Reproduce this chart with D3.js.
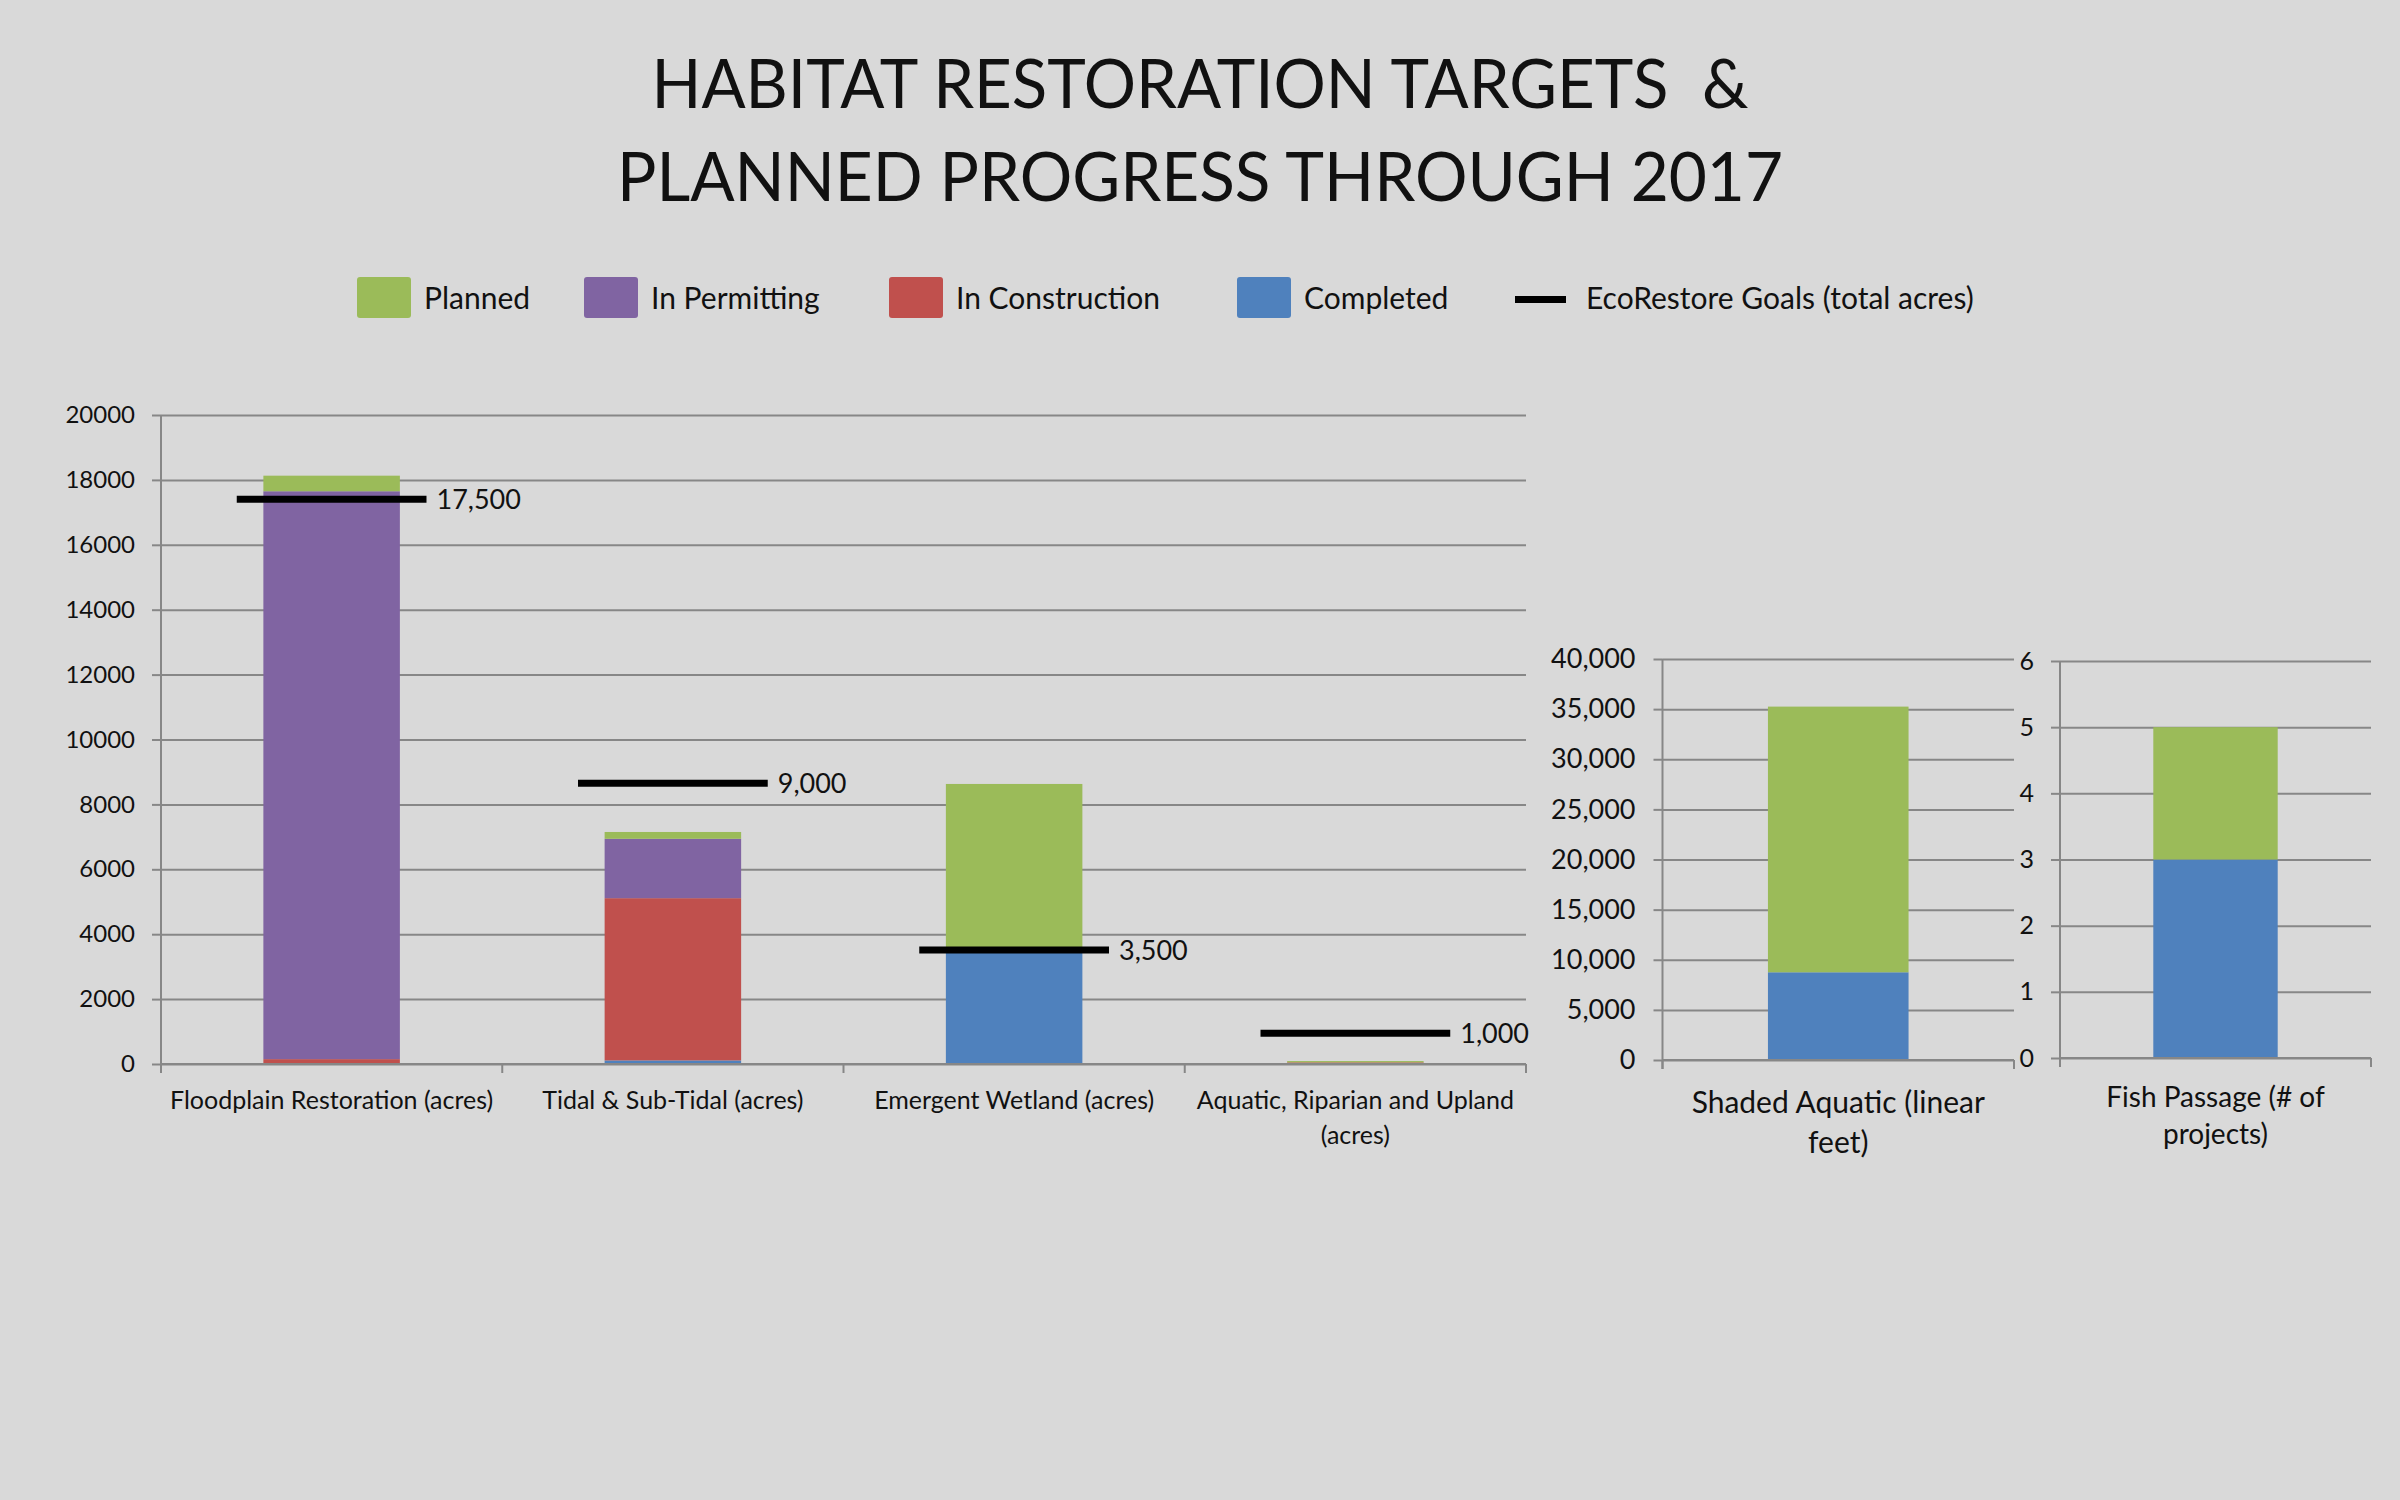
<!DOCTYPE html>
<html>
<head>
<meta charset="utf-8">
<script src="https://cdn.jsdelivr.net/npm/d3@7"></script>
<style>
  html, body { margin: 0; padding: 0; background: #d9d9d9; }
  svg { display: block; font-family: Lato, 'Open Sans', sans-serif; }
</style>
</head>
<body>
<div id="chart"></div>
<script>
// main panel (acres)
const categories = ['Floodplain Restoration (acres)', 'Tidal & Sub-Tidal (acres)', 'Emergent Wetland (acres)', 'Aquatic, Riparian and Upland (acres)'];
const completed = [0, 110, 3520, 0];
const inConstruction = [150, 5000, 0, 50];
const inPermitting = [17500, 1830, 0, 0];
const planned = [480, 210, 5110, 40];
const goalValues = [17400, 8650, 3510, 950];
const goalLabels = ['17,500', '9,000', '3,500', '1,000'];
const mainTicks = [0, 2000, 4000, 6000, 8000, 10000, 12000, 14000, 16000, 18000, 20000];

// shaded aquatic (linear feet)
const shadedCategories = ['Shaded Aquatic (linear feet)'];
const shadedCompleted = [8750];
const shadedPlanned = [26500];
const shadedTicks = [0, 5000, 10000, 15000, 20000, 25000, 30000, 35000, 40000];

// fish passage (# of projects)
const fishCategories = ['Fish Passage (# of projects)'];
const fishCompleted = [3];
const fishPlanned = [2];
const fishTicks = [0, 1, 2, 3, 4, 5, 6];

const titleLines = ['HABITAT RESTORATION TARGETS  &', 'PLANNED PROGRESS THROUGH 2017'];

const seriesConfig = {
  planned: { label: 'Planned', color: '#9bbb59' },
  inPermitting: { label: 'In Permitting', color: '#8064a2' },
  inConstruction: { label: 'In Construction', color: '#c0504d' },
  completed: { label: 'Completed', color: '#4f81bd' }
};
const stackKeys = ['completed', 'inConstruction', 'inPermitting', 'planned'];
const gridColor = '#878787';
const textColor = '#111';

const W = 2400, H = 1500;
const svg = d3.select('#chart').append('svg')
  .attr('width', W)
  .attr('height', H);

svg.append('rect').attr('width', W).attr('height', H).attr('fill', '#d9d9d9');

// Title
svg.append('g').selectAll('text')
  .data(titleLines)
  .join('text')
  .attr('x', 1200)
  .attr('y', (d, i) => 108 + i * 93)
  .attr('text-anchor', 'middle')
  .attr('font-size', 68)
  .attr('fill', textColor)
  .attr('textLength', (d, i) => i === 0 ? 1097 : 1166)
  .attr('lengthAdjust', 'spacingAndGlyphs')
  .style('white-space', 'pre')
  .text(d => d);

// Legend
const legendX = [357, 584, 889, 1237, 1515];
const legendItems = ['planned', 'inPermitting', 'inConstruction', 'completed', 'goal'];
const legend = svg.append('g');
legendItems.forEach((key, i) => {
  const gx = legendX[i];
  if (key === 'goal') {
    legend.append('line')
      .attr('x1', gx).attr('x2', gx + 51)
      .attr('y1', 299.5).attr('y2', 299.5)
      .attr('stroke', '#000').attr('stroke-width', 7);
    legend.append('text')
      .attr('x', gx + 71).attr('y', 309)
      .attr('font-size', 30).attr('fill', textColor)
      .text('EcoRestore Goals (total acres)');
  } else {
    legend.append('rect')
      .attr('x', gx).attr('y', 277)
      .attr('width', 54).attr('height', 41)
      .attr('rx', 3)
      .attr('fill', seriesConfig[key].color);
    legend.append('text')
      .attr('x', gx + 67).attr('y', 309)
      .attr('font-size', 30).attr('fill', textColor)
      .text(seriesConfig[key].label);
  }
});

function wrap(textSel, width, lineHeight) {
  textSel.each(function () {
    const t = d3.select(this);
    const words = t.text().split(/\s+/);
    const x = t.attr('x'), y = +t.attr('y');
    t.text(null);
    let line = [];
    let n = 0;
    let tspan = t.append('tspan').attr('x', x).attr('y', y);
    for (const w of words) {
      line.push(w);
      tspan.text(line.join(' '));
      if (tspan.node().getComputedTextLength() > width && line.length > 1) {
        line.pop();
        tspan.text(line.join(' '));
        line = [w];
        n++;
        tspan = t.append('tspan').attr('x', x).attr('y', y + n * lineHeight).text(w);
      }
    }
  });
}

function drawPanel(p) {
  const rows = p.categories.map((c, i) => {
    const row = { category: c };
    for (const k of p.keys) row[k] = p.values[k][i];
    return row;
  });

  const x = d3.scaleBand()
    .domain(p.categories)
    .range([p.left, p.right])
    .paddingInner(0.6)
    .paddingOuter(0.3);
  const y = d3.scaleLinear()
    .domain([p.ticks[0], p.ticks[p.ticks.length - 1]])
    .range([p.bottom, p.top]);

  const g = svg.append('g');

  // gridlines
  g.append('g')
    .attr('transform', `translate(${p.left},0)`)
    .call(d3.axisLeft(y).tickValues(p.ticks).tickSize(-(p.right - p.left)).tickFormat(''))
    .call(a => a.select('.domain').remove())
    .call(a => a.selectAll('line').attr('stroke', gridColor).attr('stroke-width', 2));

  // outward ticks + labels
  g.append('g')
    .attr('transform', `translate(${p.left},0)`)
    .call(d3.axisLeft(y).tickValues(p.ticks).tickSize(9).tickPadding(p.labelPad).tickFormat(p.format))
    .call(a => a.select('.domain').remove())
    .call(a => a.selectAll('line').attr('stroke', gridColor).attr('stroke-width', 2))
    .call(a => a.selectAll('text')
      .attr('font-size', p.tickFont)
      .attr('font-family', 'Lato, sans-serif')
      .attr('fill', textColor));

  // bars
  const stacked = d3.stack().keys(p.keys)(rows);
  g.append('g').selectAll('g')
    .data(stacked)
    .join('g')
    .attr('fill', d => seriesConfig[d.key].color)
    .selectAll('rect')
    .data(d => d)
    .join('rect')
    .attr('x', d => x(d.data.category))
    .attr('width', x.bandwidth())
    .attr('y', d => y(d[1]))
    .attr('height', d => y(d[0]) - y(d[1]));

  // axis lines
  g.append('line')
    .attr('x1', p.left).attr('x2', p.left)
    .attr('y1', p.top).attr('y2', p.bottom + 9)
    .attr('stroke', gridColor).attr('stroke-width', 2);
  g.append('line')
    .attr('x1', p.left).attr('x2', p.right)
    .attr('y1', p.bottom).attr('y2', p.bottom)
    .attr('stroke', gridColor).attr('stroke-width', 2);
  const bounds = d3.range(p.categories.length + 1).map(i => p.left + i * x.step());
  g.append('g').selectAll('line')
    .data(bounds)
    .join('line')
    .attr('x1', d => d).attr('x2', d => d)
    .attr('y1', p.bottom).attr('y2', p.bottom + 9)
    .attr('stroke', gridColor).attr('stroke-width', 2);

  // category labels
  g.append('g').selectAll('text')
    .data(p.categories)
    .join('text')
    .attr('x', d => x(d) + x.bandwidth() / 2)
    .attr('y', p.labelY)
    .attr('text-anchor', 'middle')
    .attr('font-size', p.catFont)
    .attr('fill', textColor)
    .text(d => d)
    .call(wrap, p.wrapWidth, p.labelLine);

  // goals
  if (p.goals) {
    const half = x.step() * 0.278;
    const gg = g.append('g');
    gg.selectAll('line')
      .data(p.goals)
      .join('line')
      .attr('x1', (d, i) => x(p.categories[i]) + x.bandwidth() / 2 - half)
      .attr('x2', (d, i) => x(p.categories[i]) + x.bandwidth() / 2 + half)
      .attr('y1', d => y(d))
      .attr('y2', d => y(d))
      .attr('stroke', '#000')
      .attr('stroke-width', 7);
    gg.selectAll('text')
      .data(p.goals)
      .join('text')
      .attr('x', (d, i) => x(p.categories[i]) + x.bandwidth() / 2 + half + 10)
      .attr('y', d => y(d))
      .attr('dy', '0.35em')
      .attr('font-size', 27)
      .attr('fill', textColor)
      .text((d, i) => p.goalLabels[i]);
  }
}

drawPanel({
  categories: categories,
  keys: stackKeys,
  values: { completed, inConstruction, inPermitting, planned },
  ticks: mainTicks,
  format: d3.format('d'),
  left: 161, right: 1526, top: 415, bottom: 1064,
  labelPad: 17, tickFont: 24,
  labelY: 1109, labelLine: 35, catFont: 25, wrapWidth: 345,
  goals: goalValues, goalLabels: goalLabels
});

drawPanel({
  categories: shadedCategories,
  keys: ['completed', 'planned'],
  values: { completed: shadedCompleted, planned: shadedPlanned },
  ticks: shadedTicks,
  format: d3.format(','),
  left: 1662.5, right: 2014, top: 659, bottom: 1060,
  labelPad: 18, tickFont: 27,
  labelY: 1113, labelLine: 40, catFont: 30, wrapWidth: 320
});

drawPanel({
  categories: fishCategories,
  keys: ['completed', 'planned'],
  values: { completed: fishCompleted, planned: fishPlanned },
  ticks: fishTicks,
  format: d3.format('d'),
  left: 2060, right: 2371, top: 661, bottom: 1058,
  labelPad: 17, tickFont: 25,
  labelY: 1107, labelLine: 37, catFont: 28, wrapWidth: 290
});
</script>
</body>
</html>
